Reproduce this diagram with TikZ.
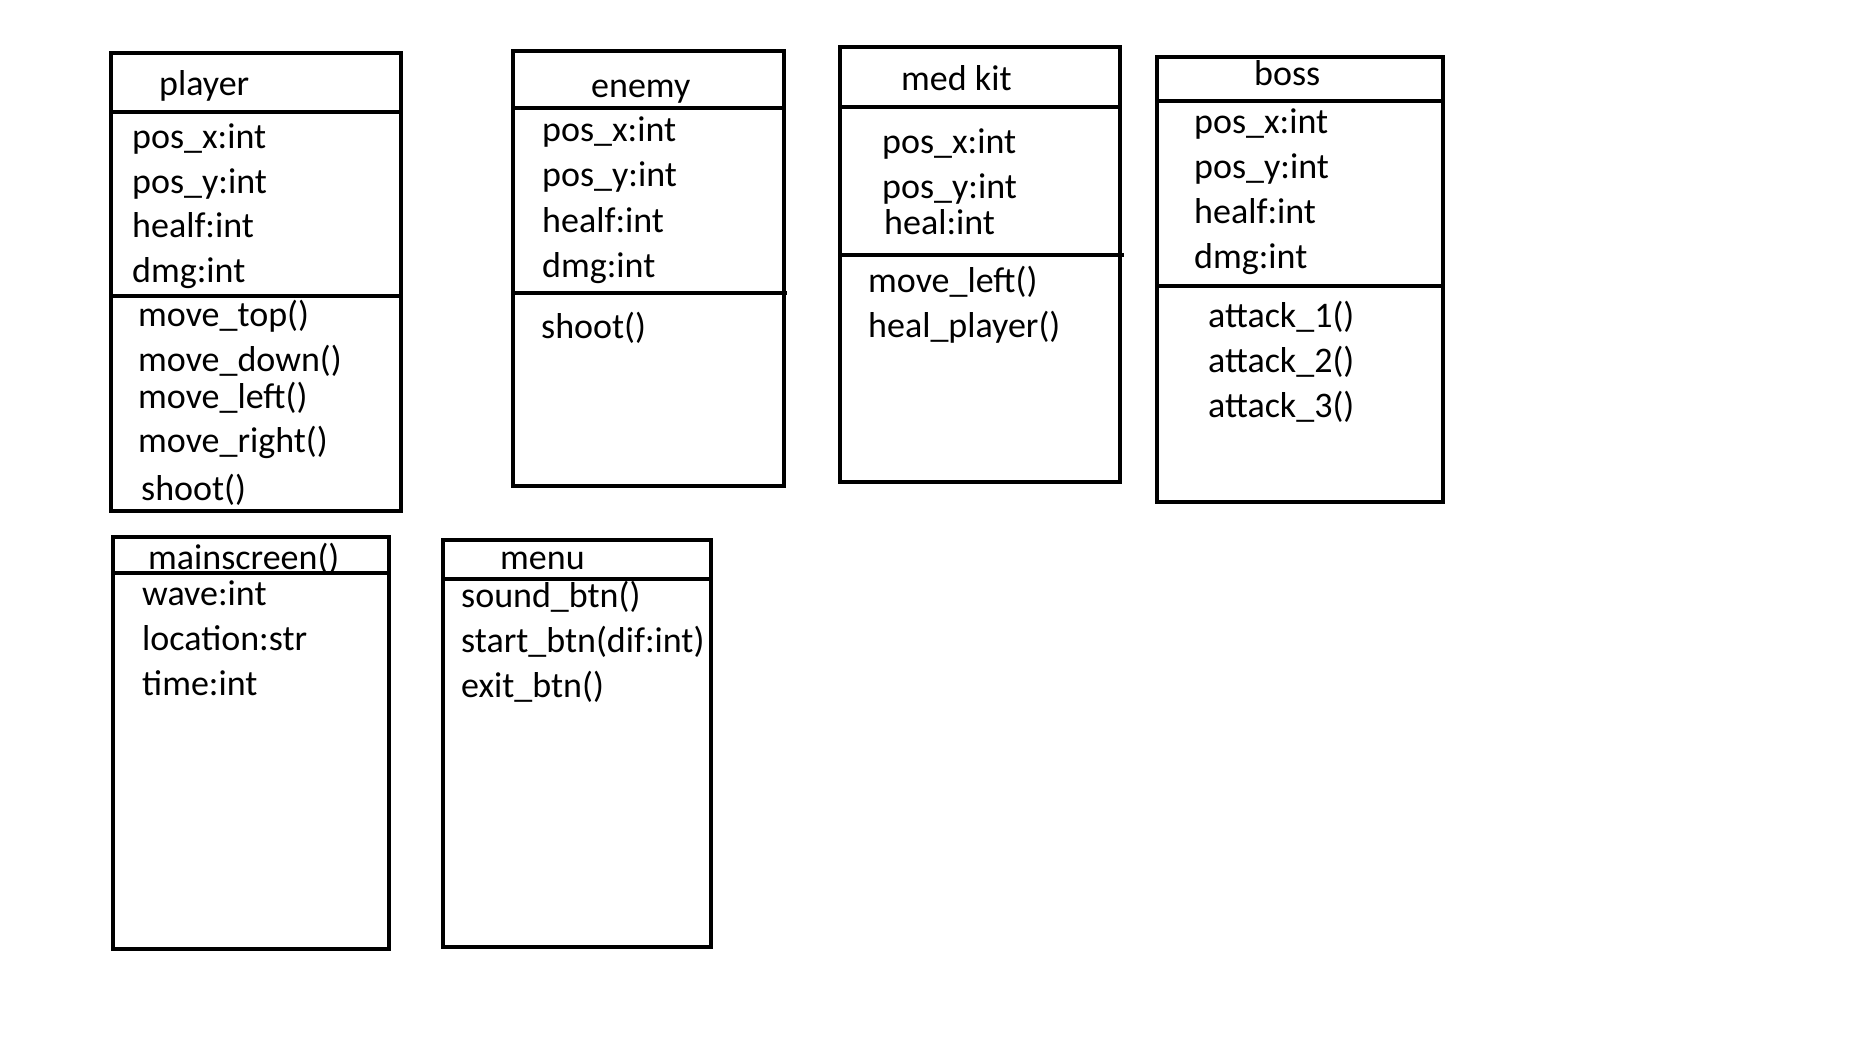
\documentclass[tikz,border=0pt]{standalone}
\usepackage{fontspec}
\setmainfont{Carlito}
\begin{document}
\begin{tikzpicture}[x=0.5pt, y=-0.5pt, line width=2.2pt,
  every node/.style={font=\fontsize{18}{22}\selectfont, anchor=base west, inner sep=0pt, xshift=-1.5pt}]
  \useasboundingbox (0,0) rectangle (1853,1050);
  % player
  \draw (111,53) rectangle (401,511);
  \draw (111,112) -- (401,112);
  \draw (111,296) -- (403,296);
  \node (player) at (160,95) {player};
  \foreach \y/\t [count=\i] in {148/pos\_x:int,193/pos\_y:int,237/healf:int,282/dmg:int} \node (player-a\i) at (133,\y) {\t};
  \foreach \y/\t [count=\i] in {326/move\_top(),371/move\_down(),408/move\_left(),452/move\_right()} \node (player-m\i) at (139,\y) {\t};
  \node (player-m5) at (142,500) {shoot()};
  % enemy
  \draw (513,51) rectangle (784,486);
  \draw (513,108) -- (784,108);
  \draw (513,293) -- (787,293);
  \node (enemy) at (592,97) {enemy};
  \foreach \y/\t [count=\i] in {141/pos\_x:int,186/pos\_y:int,232/healf:int,277/dmg:int} \node (enemy-a\i) at (543,\y) {\t};
  \node (enemy-m1) at (542,338) {shoot()};
  % med kit
  \draw (840,47) rectangle (1120,482);
  \draw (840,107) -- (1120,107);
  \draw (840,255) -- (1124,255);
  \node (medkit) at (902,90) {med kit};
  \node (medkit-a1) at (883,153) {pos\_x:int};
  \node (medkit-a2) at (883,198) {pos\_y:int};
  \node (medkit-a3) at (885,234) {heal:int};
  \node (medkit-m1) at (869,292) {move\_left()};
  \node (medkit-m2) at (869,337) {heal\_player()};
  % boss
  \draw (1157,57) rectangle (1443,502);
  \draw (1157,101) -- (1443,101);
  \draw (1157,286) -- (1443,286);
  \node (boss) at (1255,85) {boss};
  \foreach \y/\t [count=\i] in {133/pos\_x:int,178/pos\_y:int,223/healf:int,268/dmg:int} \node (boss-a\i) at (1195,\y) {\t};
  \foreach \y/\t [count=\i] in {327/attack\_1(),372/attack\_2(),417/attack\_3()} \node (boss-m\i) at (1209,\y) {\t};
  % mainscreen
  \node (mainscreen) at (149,569) {mainscreen()};
  \draw (113,537) rectangle (389,949);
  \draw (113,573) -- (389,573);
  \foreach \y/\t [count=\i] in {605/wave:int,650/location:str,695/time:int} \node (mainscreen-a\i) at (143,\y) {\t};
  % menu
  \draw (443,540) rectangle (711,947);
  \draw (443,579) -- (711,579);
  \node (menu) at (501,569) {menu};
  \foreach \y/\t [count=\i] in {607/sound\_btn(),652/start\_btn(dif:int),697/exit\_btn()} \node (menu-m\i) at (462,\y) {\t};
\end{tikzpicture}
\end{document}
